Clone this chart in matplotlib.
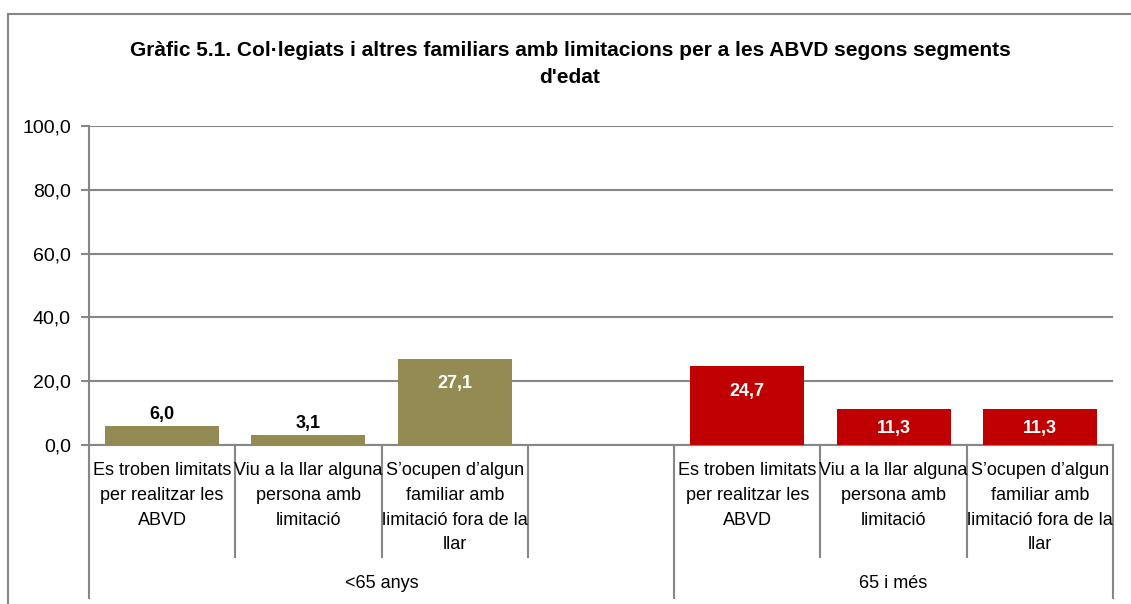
import numpy as np
import matplotlib
matplotlib.use('Agg')
import matplotlib.pyplot as plt
from matplotlib.transforms import blended_transform_factory
from matplotlib.patches import Rectangle

plt.rcParams['font.family'] = ['Liberation Sans', 'DejaVu Sans']

# Data
groups = ['<65 anys', '65 i més']
categories = ['Es troben limitats\nper realitzar les\nABVD',
              'Viu a la llar alguna\npersona amb\nlimitació',
              'S’ocupen d’algun\nfamiliar amb\nlimitació fora de la\nllar']
values_under65 = [6.0, 3.1, 27.1]
values_65plus = [24.7, 11.3, 11.3]
colors = ['#948A54', '#C00000']
title = "Gràfic 5.1. Col·legiats i altres familiars amb limitacions per a les ABVD segons segments\nd'edat"

W, H = 1131, 604
fig = plt.figure(figsize=(W / 100, H / 100), dpi=100)
ax = fig.add_axes([89 / W, 1 - 445 / H, (1113 - 89) / W, (445 - 126) / H])

grid_col = '#868686'
pos1 = np.arange(3)
pos2 = np.arange(3) + 4
bw = 0.78
ax.bar(pos1, values_under65, width=bw, color=colors[0], zorder=3)
ax.bar(pos2, values_65plus, width=bw, color=colors[1], zorder=3)

def fmt(v):
    return f'{v:.1f}'.replace('.', ',')

for x, v in zip(list(pos1) + list(pos2), values_under65 + values_65plus):
    if v > 10:
        off = -12 if v > 20 else -8
        ax.annotate(fmt(v), (x, v), xytext=(0, off), textcoords='offset points',
                    ha='center', va='top', color='white', fontsize=13, fontweight='bold', zorder=4)
    else:
        ax.annotate(fmt(v), (x, v), xytext=(0, 2), textcoords='offset points',
                    ha='center', va='bottom', color='black', fontsize=13, fontweight='bold', zorder=4)

ax.set_xlim(-0.5, 6.5)
ax.set_ylim(0, 100)
ax.set_yticks(np.arange(0, 101, 20))
ax.set_yticklabels([fmt(t) for t in np.arange(0, 101, 20)], fontsize=14)
ax.set_xticks([])
ax.yaxis.grid(True, color=grid_col, linewidth=1.5, zorder=0)
ax.tick_params(axis='y', length=6, width=1.5, color=grid_col, pad=7)
for s in ['top', 'right']:
    ax.spines[s].set_visible(False)
ax.spines['left'].set_color(grid_col)
ax.spines['left'].set_linewidth(1.5)
ax.spines['bottom'].set_color(grid_col)
ax.spines['bottom'].set_linewidth(1.5)

# category/group dividers below the axis
tr = blended_transform_factory(ax.transData, fig.transFigure)
y0 = 1 - 445 / H
for xd in [0.5, 1.5, 2.5, 4.5, 5.5]:
    ax.plot([xd, xd], [y0, 1 - 557 / H], transform=tr, color=grid_col, lw=1.5, clip_on=False)
for xd in [-0.5, 3.5, 6.5]:
    ax.plot([xd, xd], [y0, 1 - 598 / H], transform=tr, color=grid_col, lw=1.5, clip_on=False)

for x, lab in zip(list(pos1) + list(pos2), categories + categories):
    ax.text(x, 1 - 462 / H, lab, transform=tr, ha='center', va='top', fontsize=13,
            linespacing=1.6)
ax.text(1.5, 1 - 583 / H, groups[0], transform=tr, ha='center', va='center', fontsize=13)
ax.text(5.0, 1 - 583 / H, groups[1], transform=tr, ha='center', va='center', fontsize=13)

fig.text(570 / W, 1 - 64 / H, title, ha='center', va='center', fontsize=15,
         fontweight='bold', linespacing=1.55)

# outer chart border
fig.patches.append(Rectangle((8 / W, -0.1), 1.2, 1.1 - 14 / H, transform=fig.transFigure,
                             fill=False, edgecolor=grid_col, lw=1.5))

fig.savefig('out.png', dpi=100)
